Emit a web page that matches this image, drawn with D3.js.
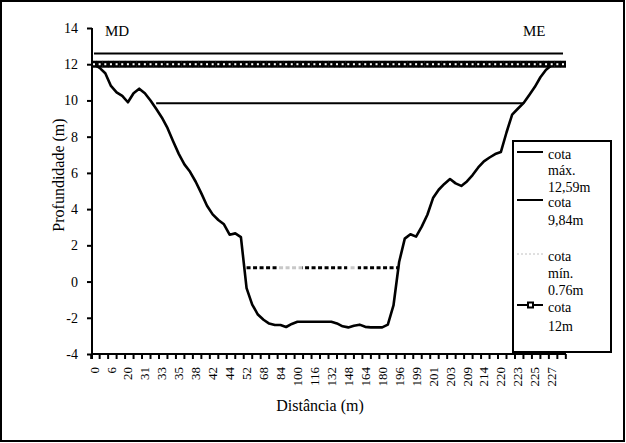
<!DOCTYPE html>
<html><head><meta charset="utf-8">
<script src="https://cdn.jsdelivr.net/npm/d3@7"></script>
<style>
body{margin:0;background:#fff}
svg{display:block}
text{font-family:"Liberation Serif","Times New Roman",serif;fill:#000}
</style>
</head><body>
<svg id="c" width="626" height="443" font-family="Liberation Serif, Times New Roman, serif"></svg>
<script>
// ---- data ----
const distLabels = ["0","6","20","31","33","35","38","42","44","52","68","84","100","116","132","148","164","180","196","199","201","203","209","214","220","223","225","227"];
// bed profile sampled at every third of a label step (label k at sample 3k)
const profile = [12.0,11.8,11.5,10.8,10.45,10.25,9.9,10.4,10.65,10.4,10.0,9.54,9.06,8.48,7.75,7.05,6.47,6.06,5.51,4.87,4.19,3.71,3.4,3.16,2.59,2.66,2.45,-0.36,-1.27,-1.82,-2.11,-2.32,-2.4,-2.4,-2.51,-2.34,-2.22,-2.22,-2.22,-2.22,-2.22,-2.22,-2.22,-2.31,-2.47,-2.53,-2.44,-2.38,-2.5,-2.53,-2.53,-2.53,-2.38,-1.32,1.08,2.37,2.61,2.48,3.03,3.69,4.61,5.07,5.39,5.66,5.42,5.28,5.53,5.88,6.30,6.64,6.85,7.04,7.15,8.23,9.22,9.54,9.85,10.29,10.74,11.28,11.70,11.95];
const nSamples = 84;
const levelNames = ["cota máx. 12,59m","cota 9,84m","cota mín. 0.76m","cota 12m"];
const levelValues = [12.59, 9.84, 0.76, 12];
const levelFrom = [0, 11, 27, 0];
const levelTo = [83, 76, 54, 83];
const legendLines = [["cota","máx.","12,59m"],["cota","9,84m"],["cota","mín.","0.76m"],["cota","12m"]];
const yTicks = [-4,-2,0,2,4,6,8,10,12,14];

// ---- scales ----
const svg = d3.select("#c");
const x = d3.scaleLinear().domain([0, nSamples-1]).range([94, 563]);
const y = d3.scaleLinear().domain([-4, 14]).range([354, 28]);

// outer border
svg.append("rect").attr("x",1).attr("y",1).attr("width",623).attr("height",440)
  .attr("fill","#fff").attr("stroke","#000").attr("stroke-width",2);

// gradient for min line
const defs = svg.append("defs");
const g = defs.append("linearGradient").attr("id","minGrad").attr("gradientUnits","userSpaceOnUse")
  .attr("x1",0).attr("x2",626).attr("y1",0).attr("y2",0);
[[0,"#000"],[277,"#000"],[277,"#c8c8c8"],[302,"#c8c8c8"],[302,"#000"],[347,"#000"],[347,"#c8c8c8"],[358,"#c8c8c8"],[358,"#000"],[626,"#000"]]
  .forEach(([o,c])=>g.append("stop").attr("offset",o/626).attr("stop-color",c));

// ---- axes ----
const yAxis = svg.append("g").attr("transform","translate(92,0)")
  .call(d3.axisLeft(y).tickValues(yTicks).tickSize(5).tickPadding(9).tickFormat(d=>String(d)));
yAxis.attr("font-family","Liberation Serif, Times New Roman, serif");
yAxis.select(".domain").remove();
yAxis.selectAll(".tick line").attr("stroke","#000").attr("stroke-width",2);
yAxis.selectAll(".tick text").attr("font-size",14);
svg.append("line").attr("x1",92).attr("x2",92).attr("y1",y(14)).attr("y2",y(-4)+5)
  .attr("stroke","#000").attr("stroke-width",2);

// x axis
svg.append("line").attr("x1",91).attr("x2",566).attr("y1",y(-4)).attr("y2",y(-4))
  .attr("stroke","#000").attr("stroke-width",2);
const tickPos = d3.range(0, 57).map(m => 1.5*m - 0.5);
svg.append("g").selectAll("line").data(tickPos).join("line")
  .attr("x1",d=>x(d)).attr("x2",d=>x(d)).attr("y1",y(-4)).attr("y2",y(-4)+5)
  .attr("stroke","#000").attr("stroke-width",2);
svg.append("g").selectAll("text").data(distLabels).join("text")
  .attr("transform",(d,i)=>`translate(${x(3*i)},367) rotate(-90)`)
  .attr("text-anchor","end").attr("dy","0.35em").attr("font-size",13).text(d=>d);

// titles
svg.append("text").attr("transform","translate(64,175) rotate(-90)").attr("text-anchor","middle")
  .attr("font-size",16).text("Profundidade (m)");
svg.append("text").attr("x",320).attr("y",411).attr("text-anchor","middle")
  .attr("font-size",16).text("Distância (m)");
svg.append("text").attr("x",105).attr("y",36).attr("font-size",15).text("MD");
svg.append("text").attr("x",523).attr("y",36).attr("font-size",15).text("ME");

// ---- series ----
const line = d3.line().defined(d=>d[1]!=null).x(d=>x(d[0])).y(d=>y(d[1]));
function levelSeries(k){
  return d3.range(nSamples).map(j => [j, (j>=levelFrom[k] && j<=levelTo[k]) ? levelValues[k] : null]);
}
// cota max
svg.append("path").attr("d", line(levelSeries(0))).attr("fill","none").attr("stroke","#000").attr("stroke-width",2);
// cota 9.84
svg.append("path").attr("d", line(levelSeries(1))).attr("fill","none").attr("stroke","#000").attr("stroke-width",2);
// cota min
svg.append("path").attr("d", line(levelSeries(2))).attr("fill","none").attr("stroke","url(#minGrad)")
  .attr("stroke-width",3).attr("stroke-dasharray","4,2.5");
// profile
svg.append("path").attr("d", line(profile.map((v,j)=>[j,v]))).attr("fill","none")
  .attr("stroke","#000").attr("stroke-width",2.6).attr("stroke-linejoin","round");
// cota 12 with square markers
const s12 = levelSeries(3).filter(d=>d[1]!=null);
svg.append("path").attr("d", line(s12)).attr("fill","none").attr("stroke","#000").attr("stroke-width",2);
svg.append("g").selectAll("rect").data(s12).join("rect")
  .attr("x",d=>x(d[0])-3).attr("y",d=>y(d[1])-3.5).attr("width",6).attr("height",7).attr("fill","#000");
svg.append("g").selectAll("rect").data(s12).join("rect")
  .attr("x",d=>x(d[0])-1).attr("y",d=>y(d[1])-1).attr("width",2).attr("height",2).attr("fill","#fff");

// ---- legend ----
svg.append("rect").attr("x",513).attr("y",141).attr("width",98).attr("height",211)
  .attr("fill","#fff").attr("stroke","#000").attr("stroke-width",2);
const legBase = [159, 207, 261, 312];
const legLH = [[0,16,33],[0,18],[0,17,34],[0,19]];
const leg = svg.append("g");
legendLines.forEach((lines,k)=>{
  const ly = legBase[k] - 7;
  const ln = leg.append("line").attr("x1",517).attr("x2",543).attr("y1",ly).attr("y2",ly);
  if(k===2){ ln.attr("stroke","#c0c0c0").attr("stroke-width",1).attr("stroke-dasharray","2,2"); }
  else { ln.attr("stroke","#000").attr("stroke-width",2); }
  if(k===3){
    leg.append("rect").attr("x",527).attr("y",ly-3.5).attr("width",7).attr("height",7).attr("fill","#000");
    leg.append("rect").attr("x",529).attr("y",ly-1.5).attr("width",3).attr("height",3).attr("fill","#fff");
  }
  lines.forEach((t,i)=>{
    leg.append("text").attr("x",548).attr("y",legBase[k]+legLH[k][i]).attr("font-size",14).text(t);
  });
});
</script>
</body></html>
